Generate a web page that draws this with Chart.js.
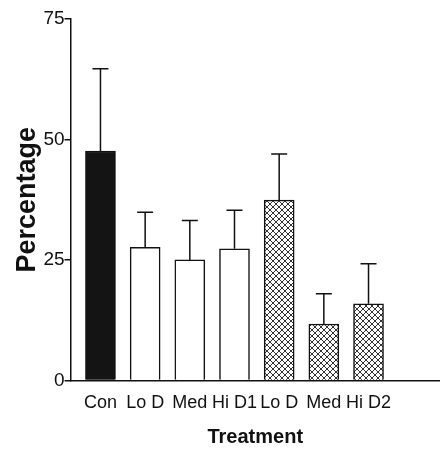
<!DOCTYPE html>
<html>
<head>
<meta charset="utf-8">
<script src="https://cdn.jsdelivr.net/npm/chart.js@4.4.0/dist/chart.umd.min.js"></script>
<style>
  html, body { margin: 0; padding: 0; background: #fff; }
  #wrap { width: 440px; height: 456px; }
</style>
</head>
<body>
<div id="wrap"><canvas id="chart"></canvas></div>
<script>
// 処理群
var labels = ['Con', 'Lo D', 'Med', 'Hi D1', 'Lo D', 'Med', 'Hi D2'];
// 平均値 (%)
var values = [47.6, 27.6, 25.0, 27.3, 37.4, 11.7, 15.9];
// 誤差 (上側のみ)
var errors = [17.1, 7.3, 8.2, 8.0, 9.6, 6.3, 8.3];
var yTicks = [0, 25, 50, 75];

// 網掛けパターン
function hatch() {
  var c = document.createElement('canvas');
  c.width = 6; c.height = 6;
  var g = c.getContext('2d');
  g.fillStyle = '#fff';
  g.fillRect(0, 0, 6, 6);
  g.strokeStyle = '#333';
  g.lineWidth = 1;
  g.beginPath();
  g.moveTo(0, 0); g.lineTo(6, 6);
  g.moveTo(6, 0); g.lineTo(0, 6);
  g.stroke();
  return g.createPattern(c, 'repeat');
}
var cross = hatch();
var fills = ['#141414', '#fff', '#fff', '#fff', cross, cross, cross];

// エラーバー描画
var errorBars = {
  id: 'errorBars',
  afterDatasetsDraw: function(chart) {
    var ctx = chart.ctx;
    var xs = chart.scales.x, ys = chart.scales.y;
    ctx.save();
    ctx.strokeStyle = '#111';
    ctx.lineWidth = 1.5;
    values.forEach(function(v, i) {
      var x = xs.getPixelForValue(i);
      var y0 = ys.getPixelForValue(v);
      var y1 = ys.getPixelForValue(v + errors[i]);
      ctx.beginPath();
      ctx.moveTo(x, y0); ctx.lineTo(x, y1);
      ctx.moveTo(x - 8, y1); ctx.lineTo(x + 8, y1);
      ctx.stroke();
    });
    ctx.restore();
  }
};

var ctx = document.getElementById('chart').getContext('2d');
var myChart = new Chart(ctx, {
  type: 'bar',
  data: {
    datasets: [{
      data: values.map(function(v, i) { return { x: i, y: v }; }),
      backgroundColor: fills,
      borderColor: '#111',
      borderWidth: 1.5,
      barThickness: 30
    }]
  },
  options: {
    responsive: true,
    maintainAspectRatio: false,
    animation: false,
    layout: { padding: { top: 19, right: 0, left: 11, bottom: 7 } },
    plugins: { legend: { display: false }, tooltip: { enabled: false } },
    scales: {
      x: {
        type: 'linear',
        offset: false,
        min: -0.67,
        max: 7.6,
        afterBuildTicks: function(scale) {
          scale.ticks = labels.map(function(l, i) { return { value: i }; });
        },
        grid: { display: false },
        border: { display: true, color: '#111', width: 1.5 },
        ticks: {
          autoSkip: false, maxRotation: 0, padding: 4,
          color: '#111',
          font: { family: 'Liberation Sans', size: 18 },
          callback: function(v) { return labels[v]; }
        },
        title: {
          display: true, text: 'Treatment', color: '#111',
          font: { family: 'Liberation Sans', size: 20, weight: 'bold' },
          padding: { top: 7, bottom: 0 }
        }
      },
      y: {
        min: 0, max: 75,
        afterBuildTicks: function(scale) {
          scale.ticks = yTicks.map(function(t) { return { value: t }; });
        },
        grid: { drawOnChartArea: false, tickLength: 6, color: '#111', lineWidth: 1.5 },
        border: { display: true, color: '#111', width: 1.5 },
        ticks: {
          padding: 0, color: '#111',
          font: { family: 'Liberation Sans', size: 19 }
        },
        title: {
          display: true, text: 'Percentage', color: '#111',
          font: { family: 'Liberation Sans', size: 27, weight: 'bold' },
          padding: { top: 0, bottom: 0 }
        }
      }
    }
  },
  plugins: [errorBars]
});
</script>
</body>
</html>
